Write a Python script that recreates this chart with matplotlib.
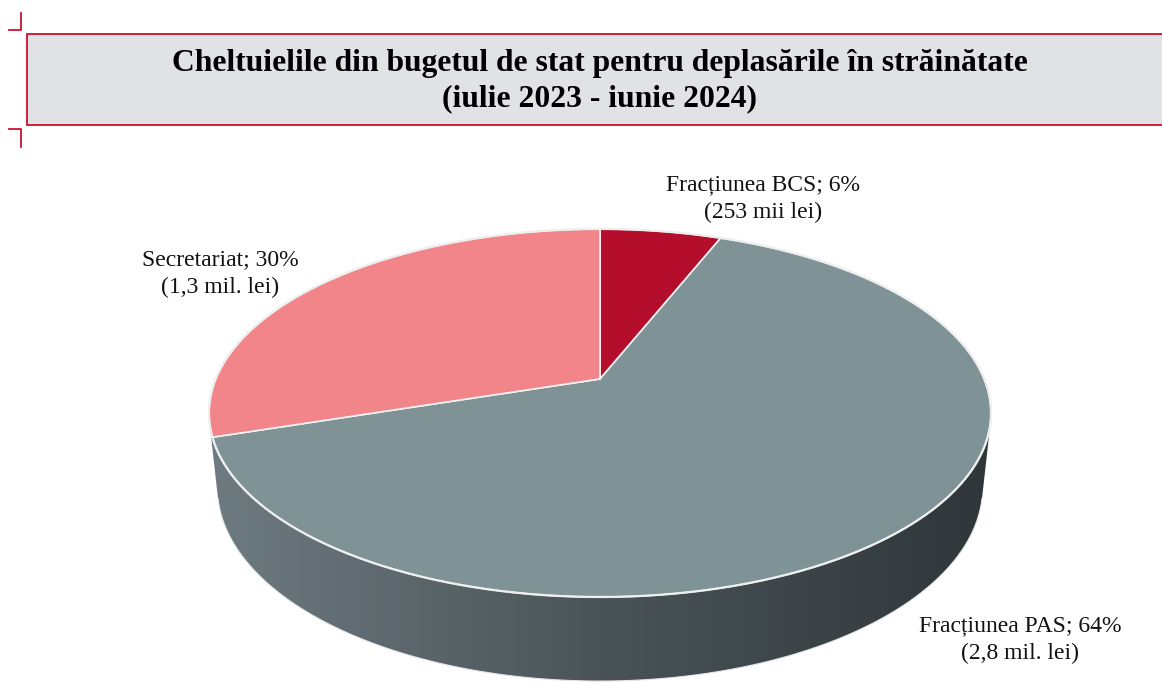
import numpy as np
import matplotlib; matplotlib.use("Agg")
import matplotlib.pyplot as plt
from matplotlib.patches import Polygon, Rectangle
from matplotlib.colors import LinearSegmentedColormap

# data (clockwise from 12 o'clock)
labels = ["Fracțiunea BCS", "Fracțiunea PAS", "Secretariat"]
shares = [6, 64, 30]
amounts = ["253 mii lei", "2,8 mil. lei", "1,3 mil. lei"]

TOP = ["#B50D2C", "#7F9296", "#F28589"]
CRIMSON = "#C8102E"
SERIF = ["Liberation Serif", "DejaVu Serif"]

# perspective camera fitted to the reference
CX, CY = 600, 379
S, C = 0.4625, 0.8866   # sin / cos of elevation
D, F, H = 4.801, 1845.0, 0.22

def proj(th, Y):
    X = np.cos(th); Z = -np.sin(th)
    dep = D - Y * S - Z * C
    return CX + F * X / dep, CY - F * (Y * C - Z * S) / dep

fig = plt.figure(figsize=(11.62, 6.84), dpi=100)
ax = fig.add_axes([0, 0, 1, 1]); ax.axis("off")

# title box + corner marks
ax.add_patch(Rectangle((27, 34), 1160, 91, facecolor="#E1E2E4", edgecolor=CRIMSON, lw=1.3))
ax.plot([8.5, 21, 21], [30, 30, 13], color=CRIMSON, lw=1.3)
ax.plot([8.5, 21, 21], [129, 129, 147], color=CRIMSON, lw=1.3)
ax.text(600, 63, "Cheltuielile din bugetul de stat pentru deplasările în străinătate",
        ha="center", va="center", fontsize=22.8, fontweight="bold", family=SERIF)
ax.text(600, 99, "(iulie 2023 - iunie 2024)", ha="center", va="center",
        fontsize=22.8, fontweight="bold", family=SERIF)

# slice angles (math radians, going clockwise from top)
cum = np.concatenate([[0], np.cumsum(shares)]) / sum(shares)
starts = np.pi / 2 - 2 * np.pi * cum[:-1]
ends = np.pi / 2 - 2 * np.pi * cum[1:]

# visible front of the cylinder wall, shaded with a horizontal gradient
zs = 1 / (D * C)
vis_lo, vis_hi = -np.pi + np.arcsin(zs), -np.arcsin(zs)
grad = LinearSegmentedColormap.from_list("side", ["#6E7B81", "#4A5458", "#2F3639"])

th = np.linspace(vis_lo, vis_hi, 400)
xt, yt = proj(th, 0); xb, yb = proj(th[::-1], -H)
side = Polygon(np.column_stack([np.r_[xt, xb], np.r_[yt, yb]]), closed=True,
               facecolor="none", edgecolor="none")
ax.add_patch(side)
im = ax.imshow(np.linspace(0, 1, 256)[None, :], cmap=grad, aspect="auto",
               extent=[205, 995, 684, 370], interpolation="bilinear")
im.set_clip_path(side)
ax.plot(xb, yb, color="#E6E8E8", lw=0.8)

# top faces
for i in range(len(shares)):
    th = np.linspace(starts[i], ends[i], 300)
    x, y = proj(th, 0)
    pts = np.column_stack([np.r_[CX, x], np.r_[CY, y]])
    ax.add_patch(Polygon(pts, closed=True, facecolor=TOP[i], edgecolor="#F4F4F4", lw=1.2))

th = np.linspace(0, 2 * np.pi, 600)
x, y = proj(th, 0)
ax.plot(x, y, color="#EDEFEF", lw=1.6)

# labels
lab_pos = [(763, 199), (1020, 640), (220, 274)]
for i, (lx, ly) in enumerate(lab_pos):
    ax.text(lx, ly, f"{labels[i]}; {shares[i]}%\n({amounts[i]})", ha="center", va="center",
            fontsize=17, family=SERIF, linespacing=1.42, color="#111111")

ax.set_xlim(0, 1162); ax.set_ylim(684, 0)
fig.savefig("out.png", dpi=100, facecolor="white")
